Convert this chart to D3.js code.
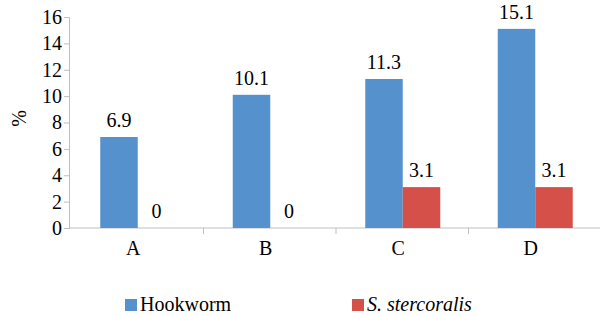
<!DOCTYPE html>
<meta charset="utf-8">
<script src="https://d3js.org/d3.v7.min.js"></script>
<style>
  body { margin: 0; background: #fff; }
  svg text { font-family: 'Liberation Serif', Tinos, 'Times New Roman', 'DejaVu Serif', serif; fill: #000; }
</style>
<div id="chart"></div>
<script>

// data
var categories = ["A", "B", "C", "D"]
var seriesNames = ["Hookworm", "S. stercoralis"]
var hookworm = [6.9, 10.1, 11.3, 15.1]
var strongy = [0, 0, 3.1, 3.1]
var yTicks = [0, 2, 4, 6, 8, 10, 12, 14, 16]
var colors = ["#5592cd", "#d6504a"]

var width = 600, height = 316
var margin = {left: 69, right: 0, top: 17, bottom: 88}
var serif = "'Liberation Serif', Tinos, 'Times New Roman', 'DejaVu Serif', serif"

var svg = d3.select("#chart").append("svg")
  .attr("width", width)
  .attr("height", height)
  .attr("font-family", serif)

var x = d3.scaleBand()
  .domain(categories)
  .range([71, 601])

var x1 = d3.scaleBand()
  .domain(seriesNames)
  .range([0, 75])

var y = d3.scaleLinear()
  .domain([0, 16])
  .range([height - margin.bottom, margin.top])

// y axis
var yAxis = svg.append("g")
  .attr("transform", "translate(" + margin.left + ",0)")
  .call(d3.axisLeft(y).tickValues(yTicks).tickSize(5).tickPadding(2))
yAxis.attr("font-family", serif)
yAxis.select(".domain").attr("stroke", "#bfbfbf")
yAxis.selectAll(".tick line").attr("stroke", "#bfbfbf")
yAxis.selectAll(".tick text")
  .attr("font-family", serif)
  .style("font-size", "20px")

// x axis with ticks on band edges
var xAxis = svg.append("g")
  .attr("transform", "translate(0," + y(0) + ")")
xAxis.append("line")
  .attr("x1", margin.left).attr("x2", width)
  .attr("stroke", "#bfbfbf")
xAxis.selectAll(".edge")
  .data(categories.slice(1))
  .enter().append("line")
    .attr("x1", function(d){ return x(d) })
    .attr("x2", function(d){ return x(d) })
    .attr("y2", 6)
    .attr("stroke", "#bfbfbf")
xAxis.selectAll(".lab")
  .data(categories)
  .enter().append("text")
    .attr("x", function(d){ return x(d) + x.bandwidth() / 2 - 4 })
    .attr("y", 27)
    .attr("text-anchor", "middle")
    .style("font-size", "20px")
    .text(function(d){ return d })

// y title
svg.append("text")
  .attr("transform", "translate(26," + (y(8) - 4) + ") rotate(-90)")
  .attr("text-anchor", "middle")
  .style("font-size", "20px")
  .text("%")

// bars
var rows = categories.map(function(c, i){
  return [{cat: c, s: 0, v: hookworm[i]}, {cat: c, s: 1, v: strongy[i]}]
})
var groups = svg.selectAll(".grp")
  .data(rows)
  .enter().append("g")
    .attr("transform", function(d){ return "translate(" + (x(d[0].cat) + x.bandwidth() / 2 - 37) + ",0)" })

groups.selectAll("rect")
  .data(function(d){ return d })
  .enter().append("rect")
    .attr("x", function(d){ return x1(seriesNames[d.s]) })
    .attr("width", x1.bandwidth())
    .attr("y", function(d){ return y(d.v) })
    .attr("height", function(d){ return y(0) - y(d.v) })
    .attr("fill", function(d){ return colors[d.s] })

groups.selectAll(".val")
  .data(function(d){ return d })
  .enter().append("text")
    .attr("x", function(d){ return x1(seriesNames[d.s]) + x1.bandwidth() / 2 })
    .attr("y", function(d){ return y(d.v) - 10 })
    .attr("text-anchor", "middle")
    .style("font-size", "20px")
    .text(function(d){ return d.v })

// legend
var legend = svg.append("g").attr("transform", "translate(0,305)")
var legX = [125, 352]
seriesNames.forEach(function(name, i){
  legend.append("rect")
    .attr("x", legX[i]).attr("y", -6)
    .attr("width", 12).attr("height", 12)
    .attr("fill", colors[i])
  legend.append("text")
    .attr("x", legX[i] + 15)
    .attr("y", 6)
    .style("font-size", "20px")
    .style("font-style", i == 1 ? "italic" : "normal")
    .text(name)
})

</script>
